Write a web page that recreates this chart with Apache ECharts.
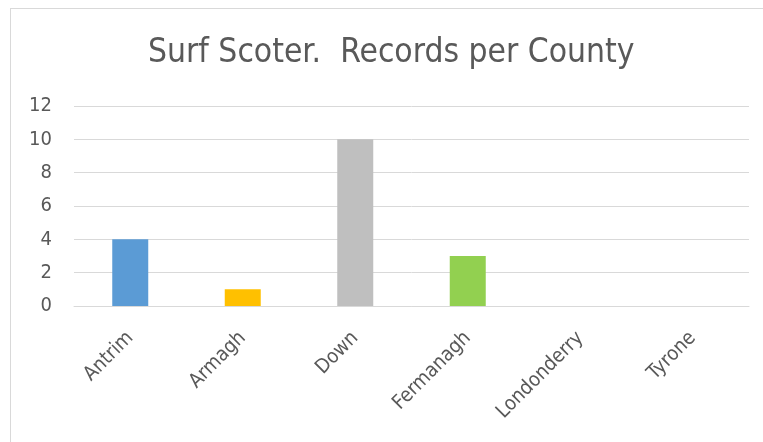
<!DOCTYPE html>
<html>
<head>
<meta charset="utf-8">
<script src="https://cdn.jsdelivr.net/npm/echarts@6/dist/echarts.min.js"></script>
<style>
  body { margin: 0; background: #fff; overflow: hidden; }
  #frame { position: absolute; left: 10px; top: 8px; width: 770px; height: 450px; border: 1px solid #d9d9d9; }
  #chart { position: absolute; left: 0; top: 0; width: 763px; height: 442px; }
</style>
</head>
<body>
<div id="frame"></div>
<div id="chart"></div>
<script>
  // county names and record counts
  const counties = ['Antrim', 'Armagh', 'Down', 'Fermanagh', 'Londonderry', 'Tyrone'];
  const records = [4, 1, 10, 3, 0, 0];
  const barColors = ['#5b9bd5', '#ffc000', '#bfbfbf', '#92d050', '#4472c4', '#70ad47'];

  const font = 'DejaVu Sans Condensed';
  const chart = echarts.init(document.getElementById('chart'));
  chart.setOption({
    animation: false,
    title: {
      text: 'Surf Scoter.  Records per County',
      left: 143,
      top: 32,
      textStyle: { fontFamily: font, fontWeight: 'normal', fontSize: 33.3, color: '#595959' }
    },
    grid: { left: 74, right: 14, top: 106, bottom: 136 },
    xAxis: {
      type: 'category',
      data: counties,
      axisLine: { lineStyle: { color: '#d9d9d9' } },
      axisTick: { show: false },
      axisLabel: { rotate: 45, interval: 0, color: '#595959', fontSize: 20, fontFamily: font, margin: 29 }
    },
    yAxis: {
      type: 'value',
      min: 0, max: 12, interval: 2,
      axisLine: { show: false },
      axisTick: { show: false },
      splitLine: { lineStyle: { color: '#d9d9d9' } },
      axisLabel: { color: '#595959', fontSize: 20, fontFamily: font, margin: 22 }
    },
    series: [{
      type: 'bar',
      data: records.map((v, i) => ({ value: v, itemStyle: { color: barColors[i] } })),
      barWidth: 36
    }]
  });
</script>
</body>
</html>
